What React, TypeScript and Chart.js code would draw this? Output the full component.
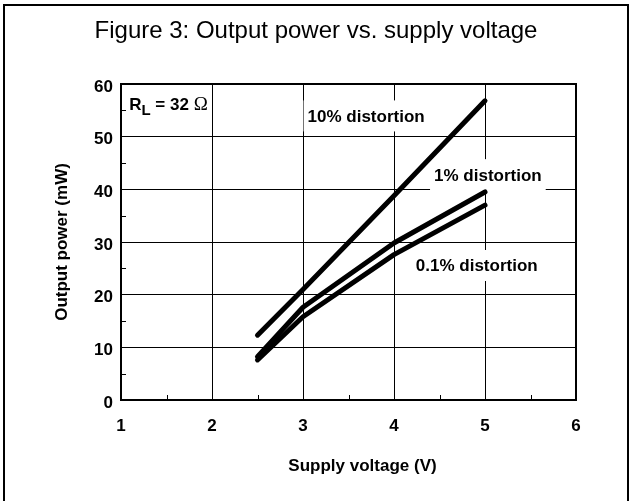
import React, { useEffect, useRef } from "react";
import { Chart, registerables } from "chart.js";

Chart.register(...registerables);

// ---- data ----
const voltage = [2.5, 3, 4, 5];
const power10 = [12.3, 21.0, 38.8, 56.8];
const power1 = [8.2, 17.6, 29.8, 39.5];
const power01 = [7.6, 15.8, 27.6, 37.0];

const xTicks = [1, 2, 3, 4, 5, 6];
const yTicks = [0, 10, 20, 30, 40, 50, 60];
const xMinor = [1.5, 2.5, 3.5, 4.5, 5.5];
const yMinor = [5, 15, 25, 35, 45, 55];

const titleText = "Figure 3: Output power vs. supply voltage";
const xTitle = "Supply voltage (V)";
const yTitle = "Output power (mW)";

// curve labels: left edge (x, V) and text baseline (y, mW)
const curveLabels = [
  { text: "10% distortion", x: 3.05, y: 52.8 },
  { text: "1% distortion", x: 4.44, y: 41.65 },
  { text: "0.1% distortion", x: 4.24, y: 24.4 },
];
const loadLabel = { x: 1.09, y: 55.0, sym: "R", sub: "L", rest: " = 32 ", unit: "Ω" };

const FONT = "'Liberation Sans', Arial, Helvetica, sans-serif";

const decor = {
  id: "decor",
  beforeDatasetsDraw(chart: any) {
    const { ctx, chartArea: a, scales } = chart;
    const x = scales.x, y = scales.y;
    ctx.save();
    ctx.textBaseline = "alphabetic";
    ctx.textAlign = "left";
    // curve labels with white background
    ctx.font = `bold 17px ${FONT}`;
    for (const l of curveLabels) {
      const px = x.getPixelForValue(l.x);
      const py = y.getPixelForValue(l.y);
      const w = ctx.measureText(l.text).width;
      ctx.fillStyle = "#fff";
      ctx.fillRect(px - 4, py - 6 - 15.5, w + 8, 31);
      ctx.fillStyle = "#000";
      ctx.fillText(l.text, px, py);
    }
    // load label R_L = 32 Ω
    {
      const px = x.getPixelForValue(loadLabel.x);
      const py = y.getPixelForValue(loadLabel.y);
      ctx.font = `bold 17px ${FONT}`;
      const wR = ctx.measureText(loadLabel.sym).width;
      ctx.font = `bold 15px ${FONT}`;
      const wL = ctx.measureText(loadLabel.sub).width;
      ctx.font = `bold 17px ${FONT}`;
      const wRest = ctx.measureText(loadLabel.rest).width;
      ctx.font = `19px 'Liberation Serif', 'Times New Roman', serif`;
      const wU = ctx.measureText(loadLabel.unit).width;
      const total = wR + wL + wRest + wU;
      ctx.fillStyle = "#fff";
      ctx.fillRect(px - 4, py - 6 - 19, total + 8, 36);
      ctx.fillStyle = "#000";
      let cx = px;
      ctx.font = `bold 17px ${FONT}`;
      ctx.fillText(loadLabel.sym, cx, py);
      cx += wR;
      ctx.font = `bold 15px ${FONT}`;
      ctx.fillText(loadLabel.sub, cx, py + 5);
      cx += wL;
      ctx.font = `bold 17px ${FONT}`;
      ctx.fillText(loadLabel.rest, cx, py);
      cx += wRest;
      ctx.font = `19px 'Liberation Serif', 'Times New Roman', serif`;
      ctx.fillText(loadLabel.unit, cx, py);
    }
    // inner minor ticks
    ctx.strokeStyle = "#000";
    ctx.lineWidth = 1;
    for (const v of xMinor) {
      const px = Math.round(x.getPixelForValue(v)) + 0.5;
      ctx.beginPath();
      ctx.moveTo(px, a.bottom);
      ctx.lineTo(px, a.bottom - 5);
      ctx.stroke();
    }
    for (const v of yMinor) {
      const py = Math.round(y.getPixelForValue(v)) + 0.5;
      ctx.beginPath();
      ctx.moveTo(a.left, py);
      ctx.lineTo(a.left + 5, py);
      ctx.stroke();
    }
    ctx.restore();
  },
  afterDraw(chart: any) {
    const { ctx, chartArea: a, width } = chart;
    ctx.save();
    // top and right plot frame
    ctx.strokeStyle = "#000";
    ctx.lineWidth = 2;
    ctx.beginPath();
    ctx.moveTo(a.left, a.top);
    ctx.lineTo(a.right, a.top);
    ctx.lineTo(a.right, a.bottom);
    ctx.stroke();
    // chart title
    ctx.fillStyle = "#000";
    ctx.textAlign = "center";
    ctx.textBaseline = "alphabetic";
    ctx.font = `24px ${FONT}`;
    ctx.fillText(titleText, width / 2 + 1, 38);
    // x axis title
    ctx.font = `bold 17px ${FONT}`;
    ctx.fillText(xTitle, (a.left + a.right) / 2 + 14, a.bottom + 70.5);
    // y axis title
    ctx.translate(a.left - 54, (a.top + a.bottom) / 2);
    ctx.rotate(-Math.PI / 2);
    ctx.fillText(yTitle, 0, 0);
    ctx.restore();
  },
};

export default function App() {
  const ref = useRef<HTMLCanvasElement | null>(null);
  useEffect(() => {
    if (!ref.current) return;
    const lineStyle = {
      borderColor: "#000",
      borderWidth: 5,
      pointRadius: 0,
      tension: 0,
      fill: false,
      borderCapStyle: "round" as const,
      borderJoinStyle: "round" as const,
    };
    const chart = new Chart(ref.current, {
      type: "line",
      data: {
        datasets: [
          { label: "10% distortion", data: voltage.map((v, i) => ({ x: v, y: power10[i] })), ...lineStyle },
          { label: "1% distortion", data: voltage.map((v, i) => ({ x: v, y: power1[i] })), ...lineStyle },
          { label: "0.1% distortion", data: voltage.map((v, i) => ({ x: v, y: power01[i] })), ...lineStyle },
        ],
      },
      options: {
        animation: false,
        responsive: false,
        devicePixelRatio: 1,
        layout: { padding: { top: 84, left: 0, right: 54, bottom: 0 } },
        plugins: {
          legend: { display: false },
          tooltip: { enabled: false },
          title: { display: false },
        },
        scales: {
          x: {
            type: "linear",
            min: 1,
            max: 6,
            afterBuildTicks: (s: any) => {
              s.ticks = xTicks.map((v) => ({ value: v }));
            },
            afterFit: (s: any) => {
              s.height = 101;
            },
            grid: { color: "#000", lineWidth: 1, drawTicks: false },
            border: { color: "#000", width: 2 },
            ticks: {
              color: "#000",
              padding: 16,
              font: { family: FONT, size: 17, weight: "bold" },
              callback: (v: any) => String(v),
            },
          },
          y: {
            type: "linear",
            min: 0,
            max: 60,
            afterBuildTicks: (s: any) => {
              s.ticks = yTicks.map((v) => ({ value: v }));
            },
            afterFit: (s: any) => {
              s.width = 121;
            },
            grid: { color: "#000", lineWidth: 1, drawTicks: false },
            border: { color: "#000", width: 2 },
            ticks: {
              color: "#000",
              padding: 8,
              labelOffset: 3,
              font: { family: FONT, size: 17, weight: "bold" },
              callback: (v: any) => String(v),
            },
          },
        },
      },
      plugins: [decor],
    });
    return () => chart.destroy();
  }, []);

  return (
    <div
      style={{
        position: "fixed",
        left: 0,
        top: 0,
        width: 630,
        height: 501,
        overflow: "hidden",
        background: "#fff",
      }}
    >
      <canvas ref={ref} width={630} height={501} style={{ display: "block", position: "absolute", left: 0, top: 0 }} />
      <div
        style={{
          position: "absolute",
          left: 3,
          top: 4,
          width: 622,
          height: 600,
          borderTop: "2px solid #000",
          borderLeft: "2px solid #000",
          borderRight: "2px solid #000",
          pointerEvents: "none",
        }}
      />
    </div>
  );
}
